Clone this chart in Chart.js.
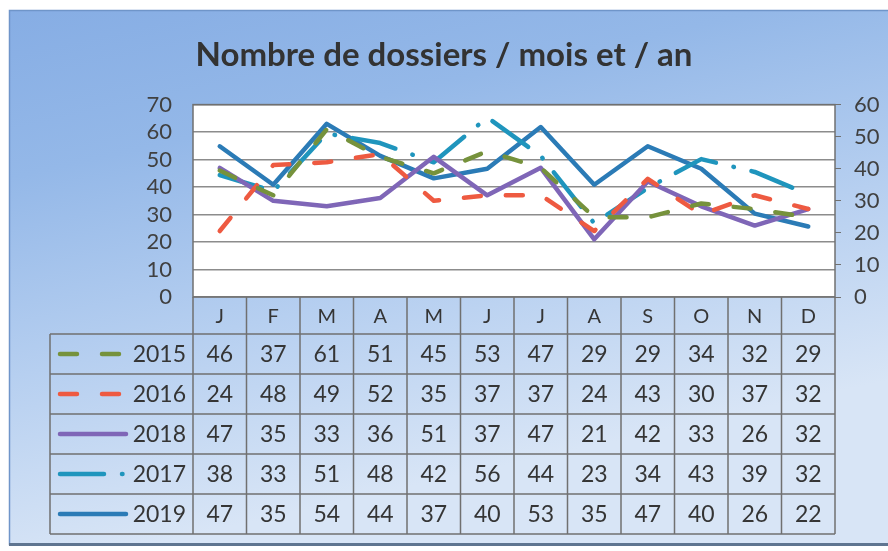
<!DOCTYPE html>
<html lang="fr">
<head>
<meta charset="utf-8">
<title>Nombre de dossiers / mois et / an</title>
<script src="https://cdn.jsdelivr.net/npm/chart.js@4.4.1/dist/chart.umd.min.js"></script>
<style>
  html, body { margin: 0; padding: 0; background: #fff; }
  canvas { display: block; }
</style>
</head>
<body>
<canvas id="dossiersChart" width="888" height="551"></canvas>
<script>
// Months and number of files per year
const months = ["J", "F", "M", "A", "M", "J", "J", "A", "S", "O", "N", "D"];
const years = ["2015", "2016", "2018", "2017", "2019"];
const values2015 = [46, 37, 61, 51, 45, 53, 47, 29, 29, 34, 32, 29];
const values2016 = [24, 48, 49, 52, 35, 37, 37, 24, 43, 30, 37, 32];
const values2018 = [47, 35, 33, 36, 51, 37, 47, 21, 42, 33, 26, 32];
const values2017 = [38, 33, 51, 48, 42, 56, 44, 23, 34, 43, 39, 32];
const values2019 = [47, 35, 54, 44, 37, 40, 53, 35, 47, 40, 26, 22];
const leftTicks = [0, 10, 20, 30, 40, 50, 60, 70];
const rightTicks = [0, 10, 20, 30, 40, 50, 60];

const FONT = "Lato, 'Open Sans', sans-serif";
const TEXT = "#353535";
const LINE = "#707070";

// Blue panel, white plot area
const backgroundPlugin = {
  id: "panel",
  beforeDraw(chart) {
    const { ctx, chartArea: a, width, height } = chart;
    ctx.save();
    ctx.fillStyle = "#ffffff";
    ctx.fillRect(0, 0, width, height);
    const g = ctx.createLinearGradient(0, 10, 120, height);
    g.addColorStop(0, "#86ade4");
    g.addColorStop(0.3, "#94b8e8");
    g.addColorStop(0.65, "#b6cff0");
    g.addColorStop(1, "#d8e5f6");
    ctx.fillStyle = g;
    ctx.fillRect(9, 10, width - 9, height - 16);
    ctx.strokeStyle = "#6f95c9";
    ctx.lineWidth = 1.5;
    ctx.strokeRect(9.5, 10.5, width, height - 17);
    ctx.fillStyle = "#5f7590";
    ctx.fillRect(9, height - 8, width - 9, 3);
    ctx.fillStyle = "#ffffff";
    ctx.fillRect(a.left, a.top, a.right - a.left, a.bottom - a.top);
    ctx.restore();
  },
  afterDatasetsDraw(chart) {
    const { ctx, chartArea: a } = chart;
    ctx.save();
    ctx.strokeStyle = LINE;
    ctx.lineWidth = 1.5;
    ctx.strokeRect(a.left, a.top, a.right - a.left, a.bottom - a.top);
    ctx.restore();
  }
};

// Data table under the plot, with legend samples in the first column
const tablePlugin = {
  id: "dataTable",
  afterDraw(chart) {
    const { ctx, chartArea: a } = chart;
    const x = chart.scales.x;
    const colW = (a.right - a.left) / months.length;
    const headerBottom = a.bottom + 37;
    const rowH = 40;
    const tableLeft = 50;
    const tableBottom = headerBottom + rowH * years.length;

    ctx.save();
    ctx.strokeStyle = LINE;
    ctx.lineWidth = 1.5;
    ctx.beginPath();
    for (let i = 0; i <= months.length; i++) {
      const cx = a.left + i * colW;
      ctx.moveTo(cx, a.bottom);
      ctx.lineTo(cx, tableBottom);
    }
    ctx.moveTo(tableLeft, headerBottom);
    ctx.lineTo(tableLeft, tableBottom);
    for (let r = 0; r <= years.length; r++) {
      const y = headerBottom + r * rowH;
      ctx.moveTo(tableLeft, y);
      ctx.lineTo(a.right, y);
    }
    ctx.stroke();

    chart.data.datasets.forEach((ds, r) => {
      const cy = headerBottom + r * rowH + rowH / 2;
      // legend sample
      ctx.save();
      ctx.strokeStyle = ds.borderColor;
      ctx.lineWidth = ds.borderWidth;
      ctx.lineCap = "round";
      ctx.setLineDash(ds.borderDash || []);
      ctx.beginPath();
      ctx.moveTo(60, cy);
      ctx.lineTo(126, cy);
      ctx.stroke();
      ctx.restore();

      ctx.fillStyle = TEXT;
      ctx.font = "23px " + FONT;
      ctx.textBaseline = "middle";
      ctx.textAlign = "right";
      ctx.fillText(ds.label, 186, cy + 1);
      ctx.textAlign = "center";
      ds.data.forEach((v, i) => {
        ctx.fillText(String(v), x.getPixelForValue(i), cy + 1);
      });
    });
    ctx.restore();
  }
};

function series(label, data, color, dash, axis) {
  return {
    label: label,
    data: data,
    yAxisID: axis,
    borderColor: color,
    backgroundColor: color,
    borderWidth: 4.5,
    borderDash: dash,
    borderCapStyle: "round",
    borderJoinStyle: "round",
    pointRadius: 0,
    tension: 0,
    fill: false
  };
}

const ctx = document.getElementById("dossiersChart").getContext("2d");
new Chart(ctx, {
  type: "line",
  data: {
    labels: months,
    datasets: [
      series(years[0], values2015, "#76923c", [17, 25], "y"),
      series(years[1], values2016, "#ee5a41", [17, 25], "y"),
      series(years[2], values2018, "#7f66b7", [], "y"),
      series(years[3], values2017, "#1f95bd", [44, 18, 0.5, 18], "y1"),
      series(years[4], values2019, "#2b7bb6", [], "y1")
    ]
  },
  options: {
    responsive: false,
    animation: false,
    devicePixelRatio: 1,
    layout: { padding: { top: 2, left: 0, right: 0, bottom: 0 } },
    plugins: {
      legend: { display: false },
      tooltip: { enabled: false },
      title: {
        display: true,
        text: "Nombre de dossiers / mois et / an",
        color: "#333333",
        font: { family: FONT, size: 33, weight: "bold" },
        padding: { top: 34, bottom: 29 }
      }
    },
    scales: {
      x: {
        offset: true,
        grid: { display: false, drawTicks: false },
        border: { display: false },
        ticks: { color: TEXT, font: { family: FONT, size: 20 }, padding: 8 },
        afterFit: (s) => { s.height = 254; }
      },
      y: {
        position: "left",
        min: 0,
        max: 70,
        afterBuildTicks: (s) => { s.ticks = leftTicks.map((v) => ({ value: v })); },
        grid: { color: "#8c8c8c", lineWidth: 1.5, drawTicks: false },
        border: { display: false },
        ticks: { color: "#404040", font: { family: FONT, size: 22 }, padding: 21, autoSkip: false },
        afterFit: (s) => { s.width = 193; }
      },
      y1: {
        position: "right",
        min: 0,
        max: 60,
        afterBuildTicks: (s) => { s.ticks = rightTicks.map((v) => ({ value: v })); },
        grid: { drawOnChartArea: false, color: LINE, tickLength: 6 },
        border: { display: false },
        ticks: { color: "#404040", font: { family: FONT, size: 22 }, padding: 13, autoSkip: false },
        afterFit: (s) => { s.width = 53; }
      }
    }
  },
  plugins: [backgroundPlugin, tablePlugin]
});
</script>
</body>
</html>
